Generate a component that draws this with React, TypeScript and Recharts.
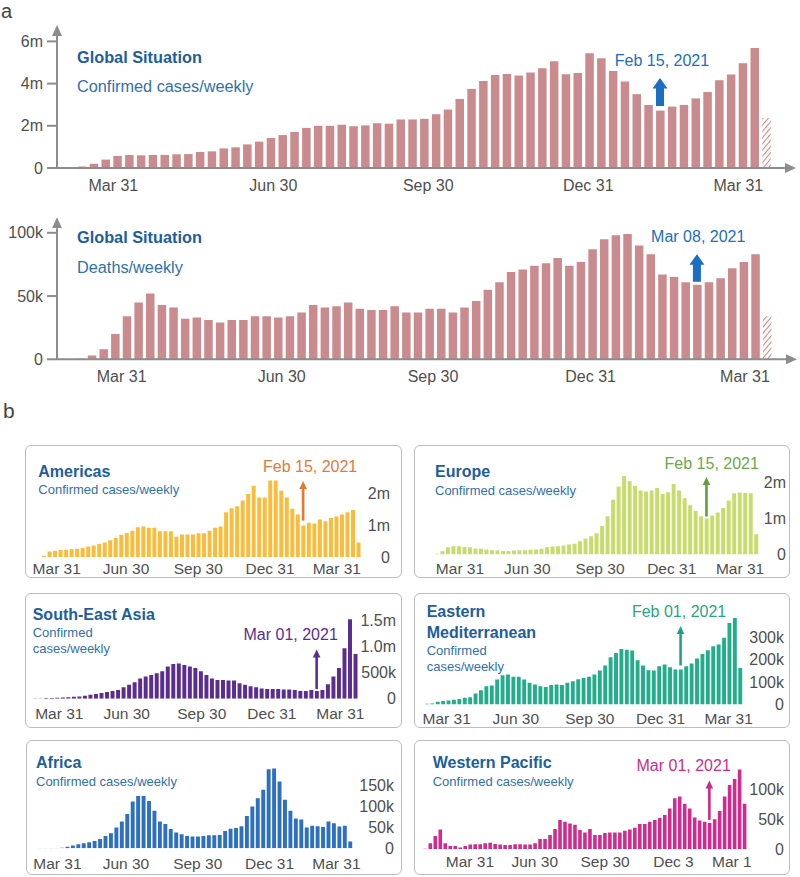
import React from 'react';
import { BarChart, Bar, XAxis, YAxis, Cell, ReferenceDot } from 'recharts';

const FONT = '"Liberation Sans", Arial, Helvetica, sans-serif';
const TICK_GRAY = '#4f4f4f';
const AXIS_GRAY = '#8c8c8c';
const TITLE_BLUE = '#1d5e9e';
const SUB_BLUE = '#2f70ae';

// ---------------- DATA ----------------
// Global weekly confirmed cases (millions), last week partial (hatched)
const globalCases = [
  0.02, 0.07, 0.2, 0.4, 0.57, 0.62, 0.6, 0.62, 0.62, 0.65,
  0.66, 0.76, 0.79, 0.93, 0.98, 1.12, 1.25, 1.42, 1.56, 1.71,
  1.9, 2.0, 2.0, 2.05, 1.98, 2.02, 2.12, 2.1, 2.3, 2.3,
  2.33, 2.55, 2.77, 3.27, 3.75, 4.12, 4.41, 4.46, 4.38, 4.53,
  4.73, 5.06, 4.44, 4.5, 5.44, 5.2, 4.6, 4.1, 3.5, 2.99,
  2.72, 2.91, 2.99, 3.3, 3.6, 4.16, 4.43, 4.96, 5.69, 2.37,
];
// Global weekly deaths (thousands)
const globalDeaths = [
  0.5, 3, 8, 20, 34, 45, 52, 43, 41, 32,
  33, 31, 29, 31, 31, 34, 34, 33, 34, 37,
  43, 41, 42, 45, 40, 39, 39, 42, 37, 37,
  40, 40, 37, 41, 46, 55, 61, 69, 71, 74,
  76, 80, 74, 77, 87, 95, 98, 99, 90, 83,
  67, 65, 61, 59, 61, 64, 72, 77, 83, 34,
];
const globalTickLabels = ['Mar 31', 'Jun 30', 'Sep 30', 'Dec 31', 'Mar 31'];
const globalCaseTickWeeks = [3.67, 17.23, 30.36, 43.92, 56.64];
const globalDeathTickWeeks = [3.58, 17.33, 30.33, 43.87, 57.13];
const caseYTicks = [0, 2, 4, 6];
const caseYLabels = ['0', '2m', '4m', '6m'];
const deathYTicks = [0, 50, 100];
const deathYLabels = ['0', '50k', '100k'];
const globalCaseAnn = { week: 50, label: 'Feb 15, 2021' };
const globalDeathAnn = { week: 53, label: 'Mar 08, 2021' };

// Regional weekly confirmed cases
const americasCases = [ // millions
  0.01, 0.05, 0.18, 0.21, 0.23, 0.24, 0.26, 0.27, 0.29, 0.34,
  0.37, 0.42, 0.47, 0.54, 0.61, 0.71, 0.77, 0.84, 0.95, 0.97,
  0.93, 0.93, 0.82, 0.82, 0.82, 0.65, 0.72, 0.72, 0.72, 0.76,
  0.76, 0.84, 0.93, 0.97, 1.42, 1.55, 1.61, 1.79, 2.0, 2.26,
  1.89, 1.89, 2.42, 2.42, 2.1, 1.89, 1.53, 1.35, 1.0, 1.09,
  1.07, 1.19, 1.14, 1.24, 1.29, 1.35, 1.42, 1.49, 0.47,
];
const europeCases = [ // millions
  0.02, 0.09, 0.2, 0.23, 0.23, 0.21, 0.2, 0.17, 0.16, 0.14,
  0.12, 0.11, 0.1, 0.1, 0.11, 0.12, 0.12, 0.13, 0.14, 0.16,
  0.2, 0.22, 0.23, 0.25, 0.28, 0.3, 0.37, 0.44, 0.51, 0.59,
  0.79, 1.06, 1.52, 1.89, 2.18, 2.04, 1.9, 1.78, 1.75, 1.78,
  1.85, 1.68, 1.73, 1.96, 1.78, 1.56, 1.37, 1.21, 1.06, 1.0,
  1.08, 1.17, 1.29, 1.5, 1.7, 1.72, 1.71, 1.7, 0.56,
];
const seAsiaCases = [ // millions
  0.006, 0.006, 0.013, 0.013, 0.02, 0.025, 0.03, 0.04, 0.045, 0.057,
  0.076, 0.09, 0.11, 0.13, 0.15, 0.17, 0.22, 0.27, 0.32, 0.39,
  0.43, 0.46, 0.49, 0.53, 0.62, 0.67, 0.68, 0.65, 0.62, 0.59,
  0.53, 0.46, 0.39, 0.36, 0.36, 0.35, 0.35, 0.3, 0.27, 0.24,
  0.22, 0.2, 0.19, 0.19, 0.19, 0.18, 0.18, 0.17, 0.15, 0.15,
  0.17, 0.15, 0.17, 0.28, 0.43, 0.59, 0.97, 1.53, 0.86,
];
const eMedCases = [ // thousands
  3, 4.5, 12, 16, 18, 21, 25, 30, 33, 49,
  64, 82, 85, 112, 131, 134, 124, 125, 112, 97,
  90, 82, 78, 87, 90, 87, 97, 104, 113, 119,
  125, 134, 152, 175, 212, 231, 249, 246, 242, 198,
  175, 154, 152, 172, 179, 167, 157, 157, 172, 184,
  206, 227, 243, 261, 269, 299, 366, 388, 164,
];
const africaCases = [ // thousands
  0.5, 0.5, 1, 1, 1.6, 4, 6.4, 9.6, 12, 14.4,
  17.5, 22, 29.5, 36, 50, 64, 82, 112, 125, 125,
  113, 90, 64, 58, 46, 38, 33.5, 29.5, 28, 28,
  29.5, 31, 31, 32, 41.5, 47, 48.6, 53, 77, 100,
  120, 140, 189, 191, 160, 116, 90, 71, 69, 50,
  54, 52.6, 51, 64, 60, 52, 54, 16,
];
const wPacificCases = [ // thousands
  1, 10, 22, 33, 10, 5.5, 5.5, 2.8, 5.5, 7.8,
  8.3, 8.3, 10, 11, 8.9, 7.8, 7.2, 7.2, 8.3, 8.3,
  7.8, 7.8, 10, 17, 17, 24, 34, 49, 46, 43,
  41, 32, 28, 34, 24, 24, 27, 28, 28, 28,
  31, 33, 36, 42, 42, 46, 49, 52, 57, 68,
  85, 88, 76, 68, 53, 48, 46, 44, 50, 64,
  88, 107, 117, 133, 76,
];
const regionTickLabels = ['Mar 31', 'Jun 30', 'Sep 30', 'Dec 31', 'Mar 31'];
const wPacificTickLabels = ['Mar 31', 'Jun 30', 'Sep 30', 'Dec 3', 'Mar 1'];
const americasTickWeeks = [3.34, 15.9, 29.0, 42.0, 54.1];
const europeTickWeeks = [4.23, 16.46, 29.66, 42.69, 55.1];
const seAsiaTickWeeks = [4.4, 16.6, 30.2, 42.9, 55.3];
const eMedTickWeeks = [3.7, 16.5, 30.2, 43.3, 55.9];
const africaTickWeeks = [3.2, 15.8, 29.0, 42.2, 54.5];
const wPacificTickWeeks = [9.0, 22.0, 36.1, 49.8, 61.5];
const millionYTicks = [0, 1, 2];
const millionYLabels = ['0', '1m', '2m'];
const seAsiaYTicks = [0, 0.5, 1, 1.5];
const seAsiaYLabels = ['0', '500k', '1.0m', '1.5m'];
const eMedYTicks = [0, 100, 200, 300];
const eMedYLabels = ['0', '100k', '200k', '300k'];
const africaYTicks = [0, 50, 100, 150];
const africaYLabels = ['0', '50k', '100k', '150k'];
const wPacificYTicks = [0, 50, 100];
const wPacificYLabels = ['0', '50k', '100k'];

// ---------------- helpers ----------------
const makeXTick = (ticks: number[], labels: string[], yLocal: number, fs: number) => (props: any) => {
  const { x, payload } = props;
  const i = ticks.indexOf(payload.value);
  return (
    <text x={x} y={yLocal} textAnchor="middle" dominantBaseline="central" fontSize={fs} fill={TICK_GRAY} fontFamily={FONT}>
      {i >= 0 ? labels[i] : ''}
    </text>
  );
};

const makeYTick = (ticks: number[], labels: string[], xLocal: number, fs: number) => (props: any) => {
  const { y, payload } = props;
  const i = ticks.indexOf(payload.value);
  return (
    <text x={xLocal} y={y} textAnchor="end" dominantBaseline="central" fontSize={fs} fill={TICK_GRAY} fontFamily={FONT}>
      {i >= 0 ? labels[i] : ''}
    </text>
  );
};

const blockArrowShape = (gap: number, len: number, color: string, label: string, dx: number, dy: number) => (p: any) => {
  const cx = p.cx, tip = p.cy - gap - len, bot = p.cy - gap;
  const hh = 10.5, hw = 15, sw = 8;
  const d = `M${cx},${tip} L${cx + hw / 2},${tip + hh} L${cx + sw / 2},${tip + hh} L${cx + sw / 2},${bot} L${cx - sw / 2},${bot} L${cx - sw / 2},${tip + hh} L${cx - hw / 2},${tip + hh} Z`;
  return (
    <g>
      <path d={d} fill={color} />
      <text x={cx + dx} y={tip + dy} textAnchor="middle" dominantBaseline="central" fontSize={16} fill={color} fontFamily={FONT}>{label}</text>
    </g>
  );
};

const thinArrowShape = (gap: number, len: number, color: string, textColor: string, label: string, dx: number, dy: number) => (p: any) => {
  const cx = p.cx, tip = p.cy - gap - len, bot = p.cy - gap;
  return (
    <g>
      <line x1={cx} y1={tip + 6} x2={cx} y2={bot} stroke={color} strokeWidth={2.6} />
      <path d={`M${cx},${tip} L${cx + 3.8},${tip + 8} L${cx - 3.8},${tip + 8} Z`} fill={color} />
      <text x={cx + dx} y={tip + dy} textAnchor="middle" dominantBaseline="central" fontSize={16} fill={textColor} fontFamily={FONT}>{label}</text>
    </g>
  );
};

const TextAt = ({ x, cy, fs, color, bold, children }: any) => (
  <div style={{ position: 'absolute', left: x, top: cy - fs / 2, fontSize: fs, lineHeight: 1, color, fontWeight: bold ? 700 : 400, whiteSpace: 'nowrap', fontFamily: FONT }}>
    {children}
  </div>
);

// ---------------- global chart ----------------
function GlobalChart(props: any) {
  const { top, values, tickWeeks, yTicks, yLabels, firstX, sp, zeroY, pxPerUnit, plotTop, lineEndX, labelY, barSize, ann, annDx, annDy, gap, len, hatchId } = props;
  const H = 200;
  const lo = (57 - firstX) / sp;
  const hi = (lineEndX - firstX) / sp;
  const yMax = (zeroY - plotTop) / pxPerUnit;
  const data = values.map((v: number, i: number) => ({ w: i, v }));
  return (
    <div style={{ position: 'absolute', left: 0, top, width: 800, height: H }}>
      <BarChart width={800} height={H} data={data} margin={{ top: plotTop, right: 800 - lineEndX, bottom: H - zeroY - 30, left: 0 }}>
        <XAxis dataKey="w" type="number" domain={[lo, hi]} allowDataOverflow ticks={tickWeeks} interval={0} height={30}
          tickLine={false} axisLine={{ stroke: AXIS_GRAY, strokeWidth: 2, markerEnd: 'url(#axArrow)' }}
          tick={makeXTick(tickWeeks, globalTickLabels, labelY, 16)} />
        <YAxis type="number" domain={[0, yMax]} allowDataOverflow ticks={yTicks} interval={0} width={57} tickSize={10}
          tickLine={{ stroke: AXIS_GRAY, strokeWidth: 2 }} axisLine={{ stroke: AXIS_GRAY, strokeWidth: 2, markerStart: 'url(#axArrow)' }}
          tick={makeYTick(yTicks, yLabels, 43, 16)} />
        <Bar dataKey="v" barSize={barSize} isAnimationActive={false} fill="#c98b8d">
          {data.map((_: any, i: number) => (
            <Cell key={i} fill={i === data.length - 1 ? `url(#${hatchId})` : '#c98b8d'} />
          ))}
        </Bar>
        <ReferenceDot x={ann.week} y={values[ann.week]} r={0} isFront
          shape={blockArrowShape(gap, len, '#1b6ec3', ann.label, annDx, annDy)} />
      </BarChart>
    </div>
  );
}

// ---------------- regional panel ----------------
function RegionPanel({ p }: any) {
  const n = p.values.length;
  const sp = (p.lastX - p.firstX) / (n - 1);
  const pad = 0.8;
  const plotLeft = p.firstX - pad * sp;
  const plotRight = p.lastX + pad * sp;
  const yw = 2, xh = 2, mt = 4;
  const margin = {
    top: mt,
    left: plotLeft - p.box.x,
    right: p.box.x + p.box.w - plotRight - yw,
    bottom: p.box.y + p.box.h - p.zeroY - xh,
  };
  const yMax = (p.zeroY - p.box.y - mt) / p.px;
  const data = p.values.map((v: number, i: number) => ({ w: i, v }));
  return (
    <>
      <div style={{ position: 'absolute', left: p.box.x, top: p.box.y, width: p.box.w, height: p.box.h, boxSizing: 'border-box', border: '1.5px solid #bcbcbc', borderRadius: 6 }} />
      <div style={{ position: 'absolute', left: p.box.x, top: p.box.y, width: p.box.w, height: p.box.h }}>
        <BarChart width={p.box.w} height={p.box.h} data={data} margin={margin}>
          <XAxis dataKey="w" type="number" domain={[-pad, n - 1 + pad]} allowDataOverflow ticks={p.tickWeeks} interval={0}
            height={xh} tickLine={false} axisLine={false}
            tick={makeXTick(p.tickWeeks, p.tickLabels, p.xLabelY - p.box.y, 15.5)} />
          <YAxis orientation="right" type="number" domain={[0, yMax]} allowDataOverflow ticks={p.yTicks} interval={0}
            width={yw} tickLine={false} axisLine={false}
            tick={makeYTick(p.yTicks, p.yLabels, p.yLabelRight - p.box.x, 16)} />
          <Bar dataKey="v" fill={p.color} barSize={sp * 0.72} isAnimationActive={false} />
          {p.ann ? (
            <ReferenceDot x={p.ann.week} y={p.values[p.ann.week]} r={0} isFront
              shape={thinArrowShape(p.gap, 39.5, p.arrowColor, p.annColor, p.ann.label, p.annDx, p.annDy)} />
          ) : null}
        </BarChart>
      </div>
      {p.lines.map((l: any, i: number) => (
        <TextAt key={i} x={p.textX} cy={l.y} fs={l.bold ? 16 : 13} color={l.bold ? TITLE_BLUE : SUB_BLUE} bold={l.bold}>{l.t}</TextAt>
      ))}
    </>
  );
}

const panels = [
  {
    box: { x: 25, y: 445, w: 377, h: 133 }, values: americasCases, firstX: 38.3, lastX: 358.3, zeroY: 557.3, px: 31.7,
    yLabelRight: 390, xLabelY: 568.3, tickWeeks: americasTickWeeks, tickLabels: regionTickLabels,
    yTicks: millionYTicks, yLabels: millionYLabels, color: '#fbbc3b', arrowColor: '#e4782f', annColor: '#e07a3c',
    ann: { week: 48, label: 'Feb 15, 2021' }, annDx: 7, annDy: -14.7, gap: 5,
    textX: 38.3, lines: [{ t: 'Americas', y: 471.7, bold: true }, { t: 'Confirmed cases/weekly', y: 489.3 }],
  },
  {
    box: { x: 414, y: 445, w: 376, h: 133 }, values: europeCases, firstX: 436.7, lastX: 756, zeroY: 554.5, px: 36,
    yLabelRight: 786, xLabelY: 568.3, tickWeeks: europeTickWeeks, tickLabels: regionTickLabels,
    yTicks: millionYTicks, yLabels: millionYLabels, color: '#c8dc6b', arrowColor: '#5f9f3c', annColor: '#6aaa4c',
    ann: { week: 49, label: 'Feb 15, 2021' }, annDx: 5.3, annDy: -14, gap: 2,
    textX: 435, lines: [{ t: 'Europe', y: 471.7, bold: true }, { t: 'Confirmed cases/weekly', y: 490 }],
  },
  {
    box: { x: 25, y: 593, w: 377, h: 135 }, values: seAsiaCases, firstX: 35, lastX: 355.3, zeroY: 698.8, px: 52,
    yLabelRight: 396, xLabelY: 713.3, tickWeeks: seAsiaTickWeeks, tickLabels: regionTickLabels,
    yTicks: seAsiaYTicks, yLabels: seAsiaYLabels, color: '#5c2d91', arrowColor: '#5c2d91', annColor: '#5c2d91',
    ann: { week: 51, label: 'Mar 01, 2021' }, annDx: -26, annDy: -15, gap: 2,
    textX: 32.7, lines: [{ t: 'South-East Asia', y: 615, bold: true }, { t: 'Confirmed', y: 632.7 }, { t: 'cases/weekly', y: 648.3 }],
  },
  {
    box: { x: 414, y: 593, w: 376, h: 135 }, values: eMedCases, firstX: 426.7, lastX: 740, zeroY: 704.5, px: 0.223,
    yLabelRight: 784, xLabelY: 718.3, tickWeeks: eMedTickWeeks, tickLabels: regionTickLabels,
    yTicks: eMedYTicks, yLabels: eMedYLabels, color: '#22ad8b', arrowColor: '#1ea385', annColor: '#2ba587',
    ann: { week: 47, label: 'Feb 01, 2021' }, annDx: -1.5, annDy: -14.7, gap: 4,
    textX: 426.7, lines: [{ t: 'Eastern', y: 612.3, bold: true }, { t: 'Mediterranean', y: 632.7, bold: true }, { t: 'Confirmed', y: 650 }, { t: 'cases/weekly', y: 666 }],
  },
  {
    box: { x: 26, y: 740, w: 376, h: 135 }, values: africaCases, firstX: 40, lastX: 350, zeroY: 848.3, px: 0.418,
    yLabelRight: 394, xLabelY: 863.3, tickWeeks: africaTickWeeks, tickLabels: regionTickLabels,
    yTicks: africaYTicks, yLabels: africaYLabels, color: '#2d6fc0', arrowColor: '#2d6fc0', annColor: '#2d6fc0',
    ann: null, annDx: 0, annDy: 0, gap: 3,
    textX: 36, lines: [{ t: 'Africa', y: 763.3, bold: true }, { t: 'Confirmed cases/weekly', y: 781.7 }],
  },
  {
    box: { x: 414, y: 740, w: 376, h: 135 }, values: wPacificCases, firstX: 425, lastX: 744.3, zeroY: 849.3, px: 0.6,
    yLabelRight: 784, xLabelY: 861.7, tickWeeks: wPacificTickWeeks, tickLabels: wPacificTickLabels,
    yTicks: wPacificYTicks, yLabels: wPacificYLabels, color: '#d02b8d', arrowColor: '#cc2a8a', annColor: '#cc2d8c',
    ann: { week: 57, label: 'Mar 01, 2021' }, annDx: -25.7, annDy: -15, gap: 3,
    textX: 432.7, lines: [{ t: 'Western Pacific', y: 763.3, bold: true }, { t: 'Confirmed cases/weekly', y: 781.7 }],
  },
];

export default function App() {
  return (
    <div style={{ position: 'absolute', left: 0, top: 0, width: 800, height: 877, background: '#fff', fontFamily: FONT, overflow: 'hidden' }}>
      <svg width={0} height={0} style={{ position: 'absolute' }}>
        <defs>
          <pattern id="hatchCases" patternUnits="userSpaceOnUse" width={4} height={4} patternTransform="rotate(40)">
            <rect width={4} height={4} fill="#ffffff" />
            <line x1={0} y1={0} x2={0} y2={4} stroke="#c98b8d" strokeWidth={2.2} />
          </pattern>
          <pattern id="hatchDeaths" patternUnits="userSpaceOnUse" width={4} height={4} patternTransform="rotate(40)">
            <rect width={4} height={4} fill="#ffffff" />
            <line x1={0} y1={0} x2={0} y2={4} stroke="#c98b8d" strokeWidth={2.2} />
          </pattern>
          <marker id="axArrow" markerUnits="userSpaceOnUse" markerWidth={12} markerHeight={10} refX={0} refY={5} orient="auto-start-reverse">
            <path d="M0,0 L11,5 L0,10 Z" fill={AXIS_GRAY} />
          </marker>
        </defs>
      </svg>

      <div style={{ position: 'absolute', left: 1, top: 1, fontSize: 20, lineHeight: 1, color: '#444' }}>a</div>
      <div style={{ position: 'absolute', left: 3, top: 400, fontSize: 21, lineHeight: 1, color: '#444' }}>b</div>

      <GlobalChart top={0} values={globalCases} tickWeeks={globalCaseTickWeeks} yTicks={caseYTicks} yLabels={caseYLabels}
        firstX={70} sp={11.8} zeroY={168} pxPerUnit={21.1} plotTop={36} lineEndX={785} labelY={185} barSize={8.5}
        ann={globalCaseAnn} annDx={2} annDy={-17.3} gap={4.5} len={28} hatchId="hatchCases" />
      <TextAt x={77} cy={57} fs={16.3} color={TITLE_BLUE} bold>Global Situation</TextAt>
      <TextAt x={77} cy={86} fs={16.3} color={SUB_BLUE}>Confirmed cases/weekly</TextAt>

      <GlobalChart top={190} values={globalDeaths} tickWeeks={globalDeathTickWeeks} yTicks={deathYTicks} yLabels={deathYLabels}
        firstX={80} sp={11.64} zeroY={169.3} pxPerUnit={1.265} plotTop={38.3} lineEndX={786} labelY={186.7} barSize={8.5}
        ann={globalDeathAnn} annDx={1.3} annDy={-17.6} gap={3} len={27.4} hatchId="hatchDeaths" />
      <TextAt x={77} cy={236.7} fs={16.3} color={TITLE_BLUE} bold>Global Situation</TextAt>
      <TextAt x={77} cy={266.7} fs={16.3} color={SUB_BLUE}>Deaths/weekly</TextAt>

      {panels.map((p, i) => <RegionPanel key={i} p={p} />)}
    </div>
  );
}
